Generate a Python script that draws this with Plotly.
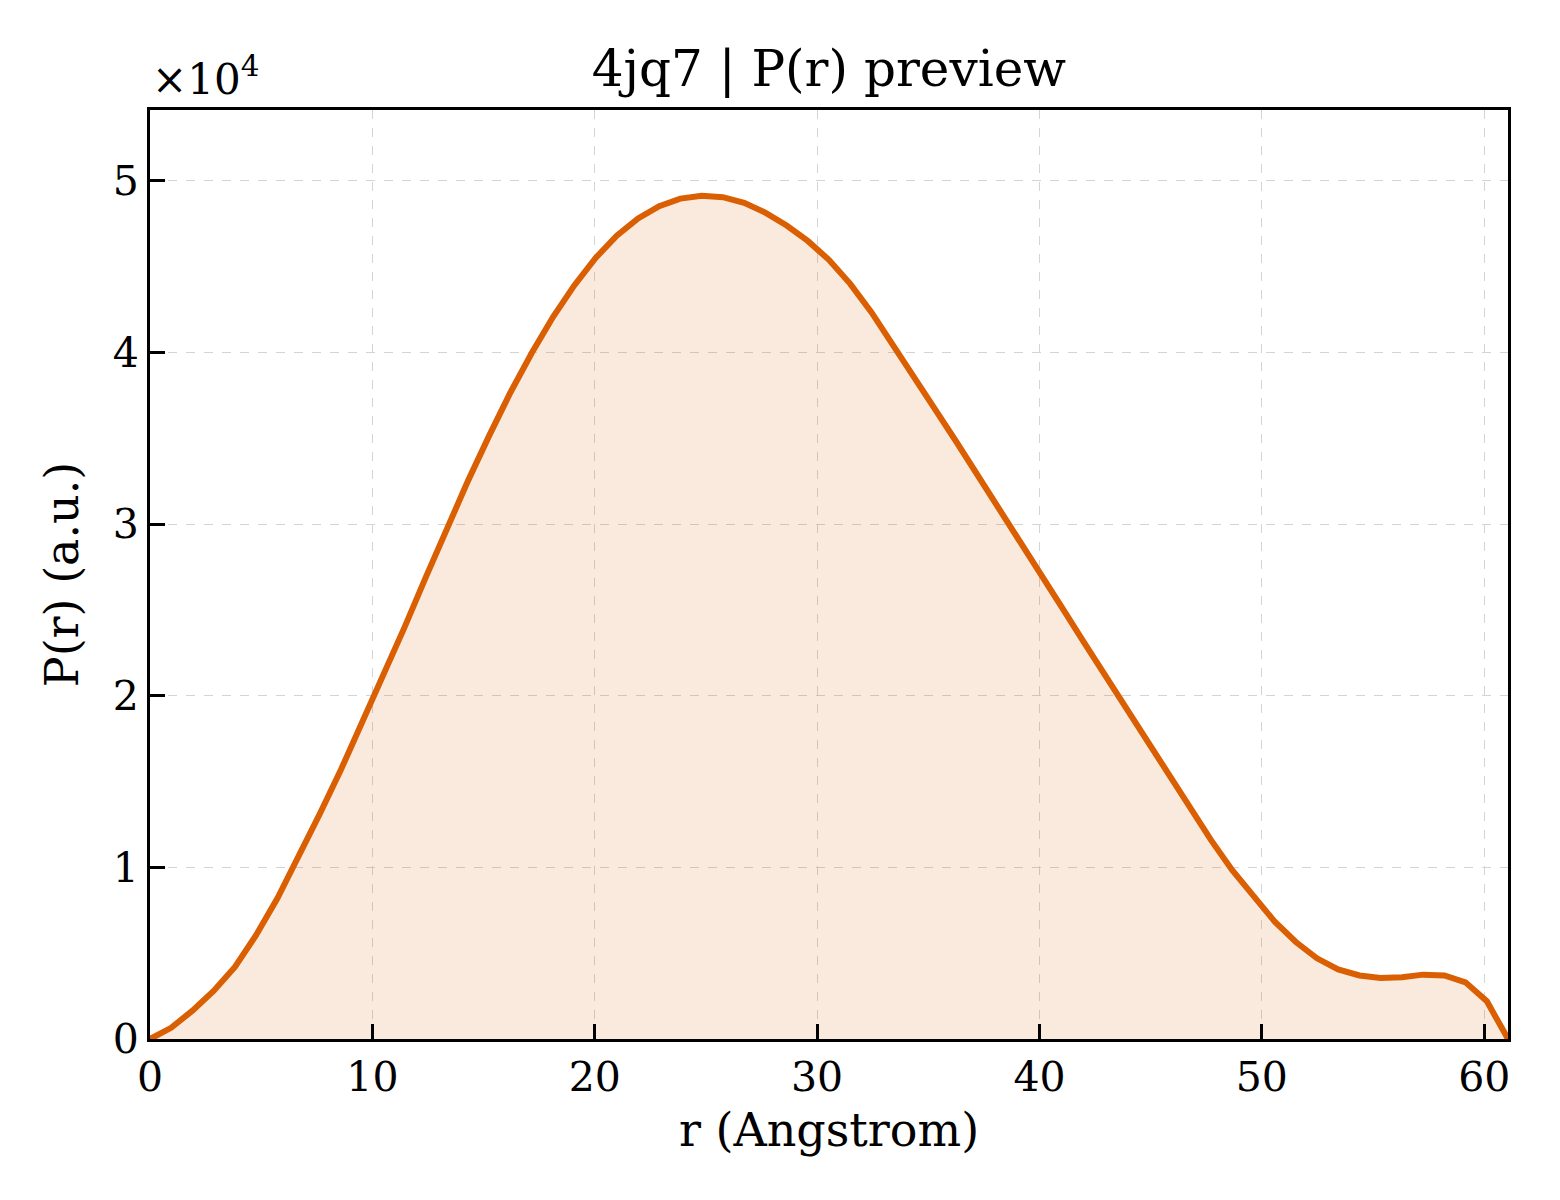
import plotly.graph_objects as go

# P(r) curve (r in Angstrom, P in arbitrary units)
r_vals = [
    0.00, 0.95, 1.91, 2.86, 3.82, 4.77, 5.73, 6.68, 7.63, 8.59,
    9.54, 10.50, 11.45, 12.40, 13.36, 14.31, 15.27, 16.22, 17.18, 18.13,
    19.08, 20.04, 20.99, 21.95, 22.90, 23.85, 24.81, 25.76, 26.72, 27.67,
    28.63, 29.58, 30.53, 31.49, 32.44, 33.40, 34.35, 35.30, 36.26, 37.21,
    38.17, 39.12, 40.08, 41.03, 41.98, 42.94, 43.89, 44.85, 45.80, 46.76,
    47.71, 48.66, 49.62, 50.57, 51.53, 52.48, 53.43, 54.39, 55.34, 56.30,
    57.25, 58.21, 59.16, 60.12, 61.07,
]
p_vals = [
    0, 650, 1650, 2800, 4200, 6050, 8200, 10600, 13100, 15700,
    18400, 21200, 24000, 26900, 29800, 32550, 35200, 37700, 40000, 42080,
    43910, 45510, 46810, 47810, 48530, 48970, 49130, 49050, 48720, 48150,
    47400, 46500, 45400, 44000, 42350, 40500, 38600, 36700, 34800, 32900,
    30950, 29000, 27050, 25100, 23150, 21200, 19250, 17300, 15350, 13450,
    11600, 9850, 8300, 6850, 5650, 4700, 4050, 3700, 3550, 3600,
    3750, 3700, 3300, 2200, 0,
]

y_ticks = [0, 10000, 20000, 30000, 40000, 50000]
y_tick_labels = ["0", "1", "2", "3", "4", "5"]
x_ticks = [0, 10, 20, 30, 40, 50, 60]

line_color = "#d95f02"
font_family = "DejaVu Serif"

fig = go.Figure()

fig.add_trace(
    go.Scatter(
        x=r_vals,
        y=p_vals,
        mode="lines",
        line=dict(color=line_color, width=6),
        fill="tozeroy",
        fillcolor="rgba(217,95,2,0.13)",
        showlegend=False,
    )
)

axis_common = dict(
    showline=True,
    linecolor="black",
    linewidth=3,
    mirror=True,
    ticks="inside",
    ticklen=15,
    tickwidth=2.5,
    tickcolor="black",
    showgrid=True,
    gridcolor="#d4d4d4",
    gridwidth=1.4,
    griddash="dash",
    zeroline=False,
    tickfont=dict(family=font_family, size=41, color="black"),
)

fig.update_xaxes(
    range=[0, 61.07],
    tickvals=x_ticks,
    title=dict(
        text="r (Angstrom)",
        font=dict(family=font_family, size=46, color="black"),
        standoff=14,
    ),
    **axis_common,
)
fig.update_yaxes(
    range=[0, 54130],
    tickvals=y_ticks,
    ticktext=y_tick_labels,
    title=dict(
        text="P(r) (a.u.)",
        font=dict(family=font_family, size=46, color="black"),
        standoff=20,
    ),
    **axis_common,
)

fig.add_annotation(
    text="×10<sup>4</sup>",
    xref="paper",
    yref="paper",
    x=0,
    y=1,
    xanchor="left",
    yanchor="bottom",
    xshift=0,
    yshift=4,
    showarrow=False,
    font=dict(family=font_family, size=42, color="black"),
)

fig.update_layout(
    width=1560,
    height=1200,
    margin=dict(l=142, r=60, t=102, b=169),
    paper_bgcolor="white",
    plot_bgcolor="white",
    title=dict(
        text="4jq7 | P(r) preview",
        x=0.5262,
        xanchor="center",
        y=0.95,
        yanchor="middle",
        font=dict(family=font_family, size=50, color="black"),
    ),
)

fig.write_html("out.html")
